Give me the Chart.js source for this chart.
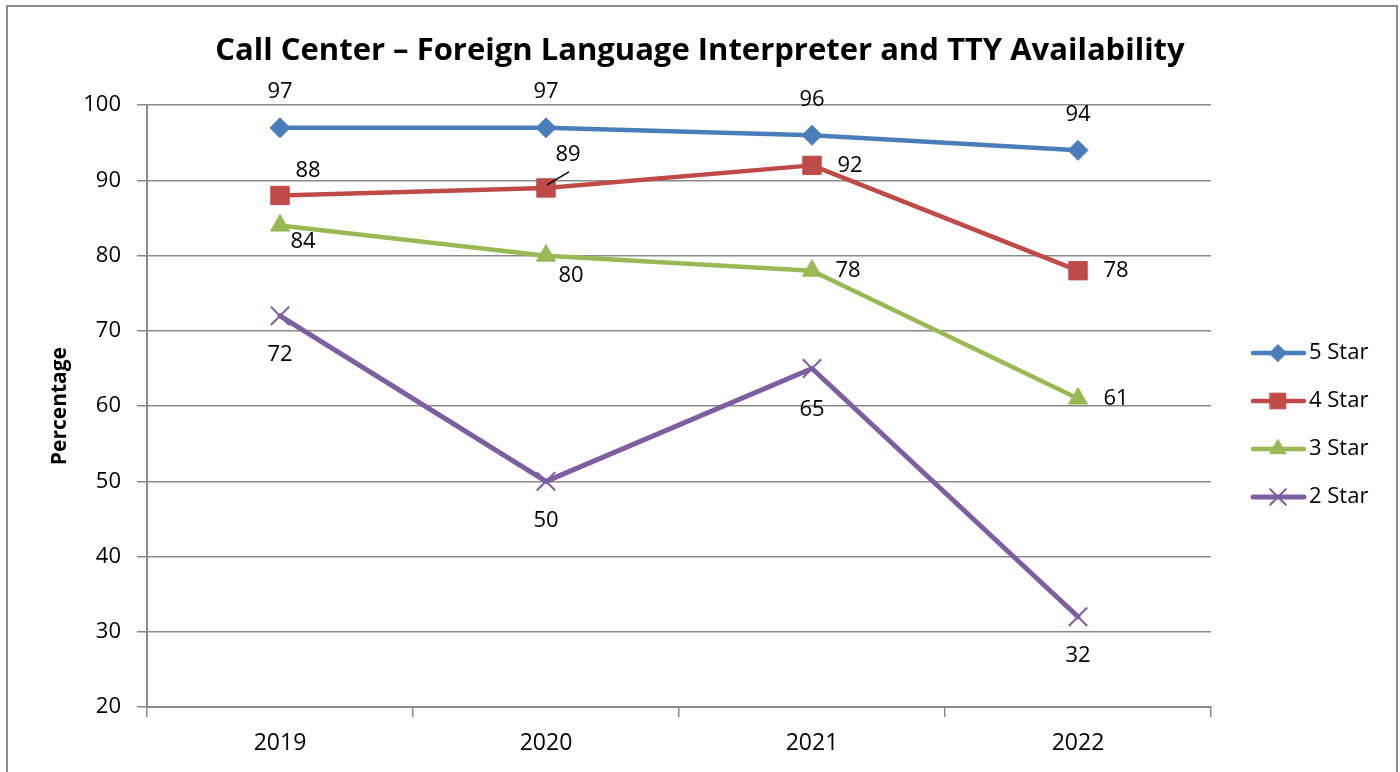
<!DOCTYPE html>
<html><head><meta charset="utf-8">
<script src="https://cdn.jsdelivr.net/npm/chart.js@4.4.1/dist/chart.umd.min.js"></script>
<style>html,body{margin:0;padding:0;background:#fff}#wrap{width:1400px;height:772px}</style>
</head><body><div id="wrap"><canvas id="c" width="1400" height="772"></canvas></div>
<script>
// ---- data ----
const categories = ['2019', '2020', '2021', '2022'];
const seriesNames = ['5 Star', '4 Star', '3 Star', '2 Star'];
const star5 = [97, 97, 96, 94];
const star4 = [88, 89, 92, 78];
const star3 = [84, 80, 78, 61];
const star2 = [72, 50, 65, 32];
const yMin = 20, yMax = 100, yStep = 10;
const chartTitle = 'Call Center \u2013 Foreign Language Interpreter and TTY Availability';
const yTitle = 'Percentage';

// ---- styles ----
const FONT = '"Open Sans", "Liberation Sans", sans-serif';
const colors = ['#4A7EBB', '#BE4B48', '#98B954', '#7D5FA0'];
const pointStyles = ['rectRot', 'rect', 'triangle', 'crossRot'];
const pointRadii = [10, 13, 11, 13];
const lineWidths = [4.5, 4.5, 4.5, 5];
// label offsets (dx, dy) relative to each point
const labelOffsets = [
  [[0, -36], [0, -36], [0, -36], [0, -36]],
  [[28, -25], [22, -33], [38, 0], [38, 0]],
  [[23, 16], [25, 20], [36, 0], [38, 0]],
  [[0, 39], [0, 39], [0, 41], [0, 39]]
];
const leaderLines = { '1-1': [[1, -3], [23, -16]] };

const seriesData = [star5, star4, star3, star2];

const datasets = seriesData.map((d, i) => ({
  label: seriesNames[i],
  data: d,
  borderColor: colors[i],
  backgroundColor: colors[i],
  borderWidth: lineWidths[i],
  pointStyle: pointStyles[i],
  pointRadius: pointRadii[i],
  pointHoverRadius: pointRadii[i],
  pointBackgroundColor: colors[i],
  pointBorderColor: colors[i],
  pointBorderWidth: i === 3 ? 2 : 1,
  tension: 0,
  borderJoinStyle: 'round',
  borderCapStyle: 'round',
  fill: false,
  clip: false
}));

const framePlugin = {
  id: 'frame',
  afterLayout(chart) {
    const t = chart.titleBlock;
    if (t) { t.left = 0; t.right = chart.width; t.width = chart.width; }
  },
  beforeDraw(chart) {
    const ctx = chart.ctx;
    ctx.save();
    ctx.fillStyle = '#fff';
    ctx.fillRect(0, 0, chart.width, chart.height);
    ctx.strokeStyle = '#8a8a8a';
    ctx.lineWidth = 2;
    ctx.strokeRect(7, 6, 1390, 800);
    ctx.restore();
  }
};

const labelPlugin = {
  id: 'valueLabels',
  afterDatasetsDraw(chart) {
    const ctx = chart.ctx;
    ctx.save();
    ctx.font = '22px ' + FONT;
    ctx.fillStyle = '#000';
    ctx.textAlign = 'center';
    ctx.textBaseline = 'middle';
    chart.data.datasets.forEach((ds, i) => {
      const meta = chart.getDatasetMeta(i);
      meta.data.forEach((el, j) => {
        const off = labelOffsets[i][j];
        ctx.fillText(String(ds.data[j]), el.x + off[0], el.y + off[1]);
        const ll = leaderLines[i + '-' + j];
        if (ll) {
          ctx.strokeStyle = '#000';
          ctx.lineWidth = 1.5;
          ctx.beginPath();
          ctx.moveTo(el.x + ll[0][0], el.y + ll[0][1]);
          ctx.lineTo(el.x + ll[1][0], el.y + ll[1][1]);
          ctx.stroke();
        }
      });
    });
    ctx.restore();
  }
};

function drawMarker(ctx, style, r, x, y, color, bw) {
  if (Chart.helpers && Chart.helpers.drawPoint) {
    ctx.fillStyle = color; ctx.strokeStyle = color; ctx.lineWidth = bw;
    Chart.helpers.drawPoint(ctx, { pointStyle: style, radius: r, rotation: 0, borderWidth: bw }, x, y);
  }
}

const legendPlugin = {
  id: 'sideLegend',
  afterDraw(chart) {
    const ctx = chart.ctx;
    const ys = [353, 401, 449, 497];
    ctx.save();
    chart.data.datasets.forEach((ds, i) => {
      const y = ys[i];
      ctx.strokeStyle = colors[i];
      ctx.lineWidth = lineWidths[i];
      ctx.lineCap = 'round';
      ctx.beginPath();
      ctx.moveTo(1253, y);
      ctx.lineTo(1304, y);
      ctx.stroke();
      drawMarker(ctx, pointStyles[i], pointRadii[i] * 0.85, 1278, y, colors[i], i === 3 ? 2 : 1);
      ctx.fillStyle = '#000';
      ctx.font = '22px ' + FONT;
      ctx.textAlign = 'left';
      ctx.textBaseline = 'middle';
      ctx.fillText(ds.label, 1309, y);
    });
    ctx.restore();
  }
};

new Chart(document.getElementById('c'), {
  type: 'line',
  data: { labels: categories, datasets },
  options: {
    responsive: false,
    devicePixelRatio: 1,
    animation: false,
    events: [],
    layout: { padding: { left: 0, right: 189, top: 0, bottom: 0 } },
    plugins: {
      legend: { display: false },
      tooltip: { enabled: false },
      title: {
        display: true,
        text: chartTitle,
        color: '#000',
        font: { family: FONT, size: 31, weight: 'bold', lineHeight: 1.2 },
        padding: { top: 33, bottom: 35 }
      }
    },
    scales: {
      x: {
        offset: true,
        grid: { offset: true, drawOnChartArea: false, drawTicks: true, tickLength: 10, color: '#8a8a8a', lineWidth: 1.5 },
        border: { color: '#8a8a8a', width: 2 },
        ticks: { color: '#000', font: { family: FONT, size: 23 }, padding: 13 },
        afterFit(s) { s.height = 65; }
      },
      y: {
        min: yMin, max: yMax,
        ticks: { stepSize: yStep, color: '#000', font: { family: FONT, size: 22 }, padding: 16 },
        grid: { color: '#8a8a8a', lineWidth: 1.5, tickLength: 10, drawTicks: true },
        border: { color: '#8a8a8a', width: 2 },
        title: {
          display: true, text: yTitle, color: '#000',
          font: { family: FONT, size: 21, weight: 'bold' },
          padding: { top: 47, bottom: 0 }
        },
        afterFit(s) { s.width = 147; }
      }
    }
  },
  plugins: [framePlugin, labelPlugin, legendPlugin]
});
</script>
</body></html>
